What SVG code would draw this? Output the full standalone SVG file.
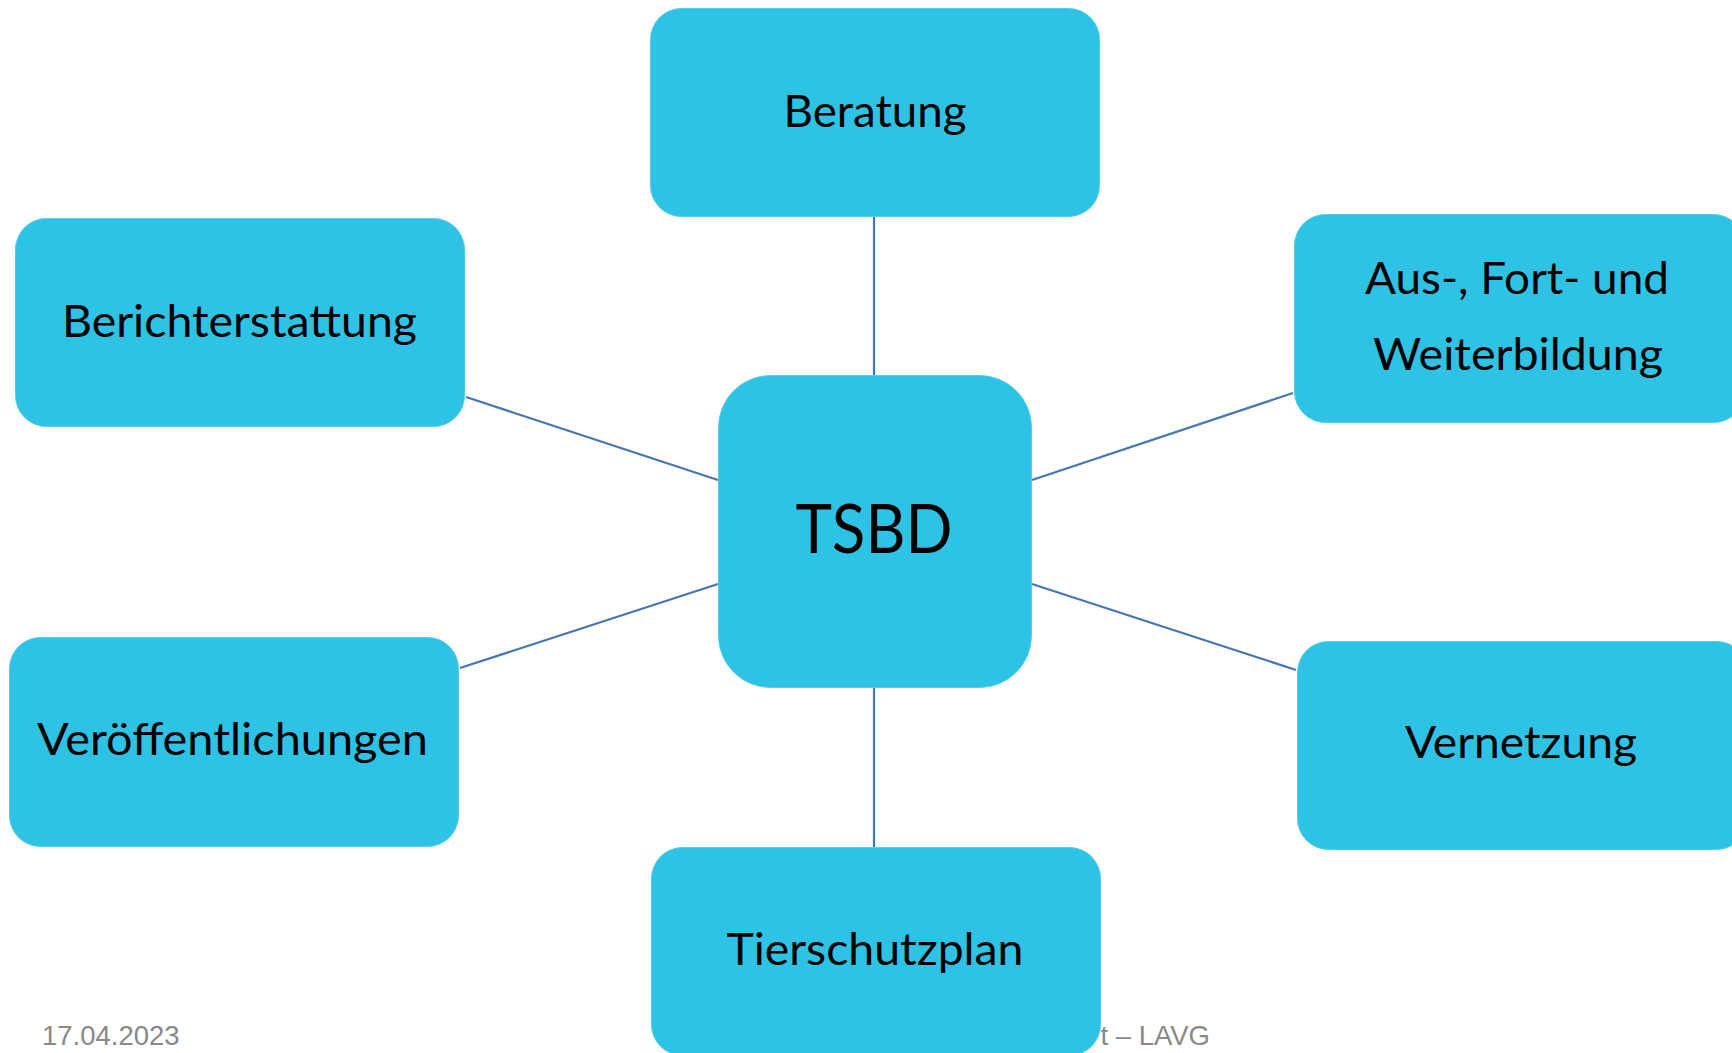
<svg xmlns="http://www.w3.org/2000/svg" width="1732" height="1053" viewBox="0 0 1732 1053">
<style>
.box{fill:#2ec3e4;stroke:#52cdea;stroke-width:1}
.lbl{font-family:Lato,"Noto Sans","Liberation Sans",sans-serif;font-size:44px;fill:#000;text-anchor:middle}
.big{font-size:68px}
.foot{font-family:"Liberation Sans",Arial,sans-serif;font-size:27.5px;fill:#898989}
.con{stroke:#4677b2;stroke-width:2.2;fill:none}
</style>
<rect width="1732" height="1053" fill="#ffffff"/>
<text class="foot" x="42" y="1045">17.04.2023</text>
<text class="foot" x="1210" y="1045" text-anchor="end">t – LAVG</text>
<g id="connectors">
<line class="con" x1="874" y1="217" x2="874" y2="376"/>
<line class="con" x1="874" y1="687" x2="874" y2="847"/>
<line class="con" x1="466" y1="397" x2="718" y2="480"/>
<line class="con" x1="460" y1="668" x2="718" y2="584"/>
<line class="con" x1="1032" y1="480" x2="1293" y2="393"/>
<line class="con" x1="1032" y1="584" x2="1296" y2="670"/>
</g>
<g id="node-tsbd">
<rect class="box" x="718.5" y="375.5" width="313" height="312" rx="52"/>
<text class="lbl big" x="874" y="553" textLength="157" lengthAdjust="spacingAndGlyphs">TSBD</text>
</g>
<g id="node-beratung">
<rect class="box" x="650.5" y="8.5" width="449" height="208" rx="31"/>
<text class="lbl" x="875" y="127" textLength="183" lengthAdjust="spacingAndGlyphs">Beratung</text>
</g>
<g id="node-berichterstattung">
<rect class="box" x="15.5" y="218.5" width="449" height="208" rx="31"/>
<text class="lbl" x="239.5" y="337" textLength="355" lengthAdjust="spacingAndGlyphs">Berichterstattung</text>
</g>
<g id="node-ausbildung">
<rect class="box" x="1294.5" y="214.5" width="450" height="208" rx="31"/>
<text class="lbl" x="1517" y="294" textLength="304" lengthAdjust="spacingAndGlyphs">Aus-, Fort- und</text>
<text class="lbl" x="1518" y="370" textLength="290" lengthAdjust="spacingAndGlyphs">Weiterbildung</text>
</g>
<g id="node-veroeffentlichungen">
<rect class="box" x="9.5" y="637.5" width="449" height="209" rx="31"/>
<text class="lbl" x="232.5" y="755" textLength="391" lengthAdjust="spacingAndGlyphs">Veröffentlichungen</text>
</g>
<g id="node-vernetzung">
<rect class="box" x="1297.5" y="641.5" width="450" height="208" rx="31"/>
<text class="lbl" x="1521" y="758" textLength="232" lengthAdjust="spacingAndGlyphs">Vernetzung</text>
</g>
<g id="node-tierschutzplan">
<rect class="box" x="651.5" y="847.5" width="449" height="208" rx="31"/>
<text class="lbl" x="875" y="965" textLength="297" lengthAdjust="spacingAndGlyphs">Tierschutzplan</text>
</g>
</svg>
